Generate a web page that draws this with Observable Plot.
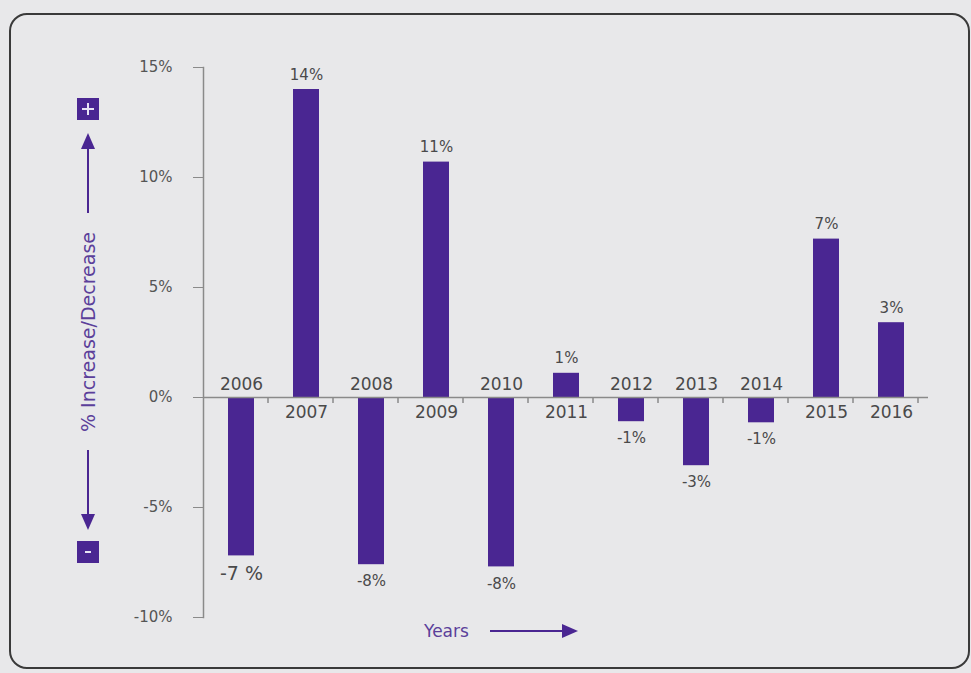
<!DOCTYPE html>
<html>
<head>
<meta charset="utf-8">
<script src="https://cdn.jsdelivr.net/npm/d3@7"></script>
<script src="https://cdn.jsdelivr.net/npm/@observablehq/plot@0.6"></script>
<style>
  html, body { margin: 0; padding: 0; background: #e8e8ea; }
  #wrap { position: relative; width: 971px; height: 673px; overflow: hidden; background: #e8e8ea; }
  #frame { position: absolute; left: 9px; top: 13px; width: 961px; height: 656px; box-sizing: border-box;
           border: 2px solid #3a3a3a; border-radius: 18px; }
  #chart { position: absolute; left: 0; top: 0; }
</style>
</head>
<body>
<div id="wrap">
  <div id="frame"></div>
  <div id="chart"></div>
</div>
<script>
// ---- data ----
const years = ["2006","2007","2008","2009","2010","2011","2012","2013","2014","2015","2016"];
const changes = [-7.2, 14.0, -7.6, 10.7, -7.7, 1.1, -1.1, -3.1, -1.15, 7.2, 3.4];
const valueLabels = ["-7 %","14%","-8%","11%","-8%","1%","-1%","-3%","-1%","7%","3%"];
const yTicks = [-10, -5, 0, 5, 10, 15];
const yTickLabels = ["-10%","-5%","0%","5%","10%","15%"];
const yTitle = "% Increase/Decrease";
const xTitle = "Years";

const data = years.map((y, i) => ({year: y, value: changes[i], label: valueLabels[i]}));
const pos = data.filter(d => d.value >= 0);
const neg = data.filter(d => d.value < 0);

const PURPLE = "#4a2692";
const TEXT = "#4a4a4a";
const AXIS = "#8a8a8a";
const FONT = "DejaVu Sans, Verdana, sans-serif";

const chart = Plot.plot({
  width: 971,
  height: 673,
  marginLeft: 203,
  marginRight: 43,
  marginTop: 67,
  marginBottom: 56,
  style: {background: "transparent", fontFamily: FONT, fontSize: "15px"},
  x: {domain: years, paddingInner: 0.6, paddingOuter: 0.3, axis: null},
  y: {domain: [-10, 15], axis: null},
  marks: [
    Plot.axisY(yTicks, {
      tickFormat: (d, i) => yTickLabels[i],
      tickSize: 10, tickPadding: 21,
      fill: "#555", stroke: AXIS, fontSize: 15, label: null
    }),
    Plot.frame({anchor: "left", stroke: AXIS, strokeWidth: 1.5}),
    Plot.barY(data, {x: "year", y: "value", fill: PURPLE}),
    Plot.ruleY([0], {stroke: AXIS, strokeWidth: 1.5}),
    // year labels: above axis for negative bars, below for positive
    Plot.text(neg, {x: "year", y: 0, text: "year", lineAnchor: "bottom", dy: -8, fill: TEXT, fontSize: 17}),
    Plot.text(pos, {x: "year", y: 0, text: "year", lineAnchor: "top", dy: 8, fill: TEXT, fontSize: 17}),
    // value labels
    Plot.text(pos, {x: "year", y: "value", text: "label", lineAnchor: "bottom", dy: -10, fill: TEXT, fontSize: 15}),
    Plot.text(neg, {x: "year", y: "value", text: "label", lineAnchor: "top", dy: 11, fill: TEXT,
      fontSize: d => d.label.includes(" ") ? 19 : 15})
  ]
});

document.getElementById("chart").appendChild(chart);

// ---- decorations (axis titles and arrows) ----
const svg = d3.select(chart);
const g = svg.append("g");

// band-boundary ticks along the x axis
const xs = chart.scale("x");
const ys = chart.scale("y");
const y0 = ys.apply(0);
const step = xs.step;
const left = xs.range[0];
for (let i = 1; i <= years.length; i++) {
  g.append("line").attr("x1", left + i * step).attr("x2", left + i * step)
    .attr("y1", y0).attr("y2", y0 + 6).attr("stroke", AXIS).attr("stroke-width", 1.5);
}

// y title
g.append("text").attr("transform", "translate(95,332) rotate(-90)")
  .attr("text-anchor", "middle").attr("fill", "#5b3f9a")
  .style("font-family", FONT).style("font-size", "19px").text(yTitle);

// up arrow + plus box
g.append("line").attr("x1", 88).attr("x2", 88).attr("y1", 213).attr("y2", 145)
  .attr("stroke", PURPLE).attr("stroke-width", 2);
g.append("path").attr("d", "M81,149 L95,149 L88,133 Z").attr("fill", PURPLE);
g.append("rect").attr("x", 77).attr("y", 98).attr("width", 22).attr("height", 22).attr("fill", PURPLE);
g.append("path").attr("d", "M82,109 L94,109 M88,103 L88,115").attr("stroke", "#e8e4f4").attr("stroke-width", 2);

// down arrow + minus box
g.append("line").attr("x1", 88).attr("x2", 88).attr("y1", 450).attr("y2", 518)
  .attr("stroke", PURPLE).attr("stroke-width", 2);
g.append("path").attr("d", "M81,514 L95,514 L88,530 Z").attr("fill", PURPLE);
g.append("rect").attr("x", 77).attr("y", 541).attr("width", 22).attr("height", 22).attr("fill", PURPLE);
g.append("path").attr("d", "M85,552 L91,552").attr("stroke", "#e8e4f4").attr("stroke-width", 2);

// x title + arrow
g.append("text").attr("x", 424).attr("y", 637).attr("text-anchor", "start").attr("fill", "#5b3f9a")
  .style("font-family", FONT).style("font-size", "17px").text(xTitle);
g.append("line").attr("x1", 490).attr("x2", 566).attr("y1", 631).attr("y2", 631)
  .attr("stroke", PURPLE).attr("stroke-width", 2);
g.append("path").attr("d", "M562,624 L578,631 L562,638 Z").attr("fill", PURPLE);
</script>
</body>
</html>
